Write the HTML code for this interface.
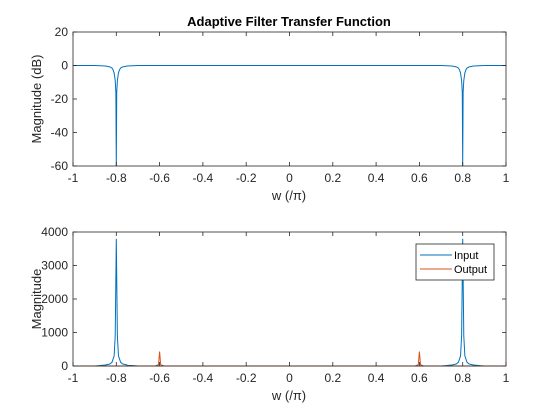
<!DOCTYPE html>
<html><head><meta charset="utf-8"><style>
body{margin:0;background:#fff;}
svg{display:block;font-family:"Liberation Sans",sans-serif;}
</style></head><body>
<svg id="fig" width="560" height="420">
<g transform="translate(41,99) rotate(-90)"><text x="0" y="0" text-anchor="middle" font-size="13" fill="#262626">Magnitude (dB)</text></g>
<g transform="translate(41,299) rotate(-90)"><text x="0" y="0" text-anchor="middle" font-size="13" fill="#262626">Magnitude</text></g>
</svg>
<script>
// Top chart data (dB)
const topW = [-1,-0.9,-0.85,-0.83,-0.82,-0.815,-0.81,-0.805,-0.802,-0.8,-0.798,-0.795,-0.79,-0.785,-0.78,-0.77,-0.75,-0.7,0,0.7,0.75,0.77,0.78,0.785,0.79,0.795,0.798,0.8,0.802,0.805,0.81,0.815,0.82,0.83,0.85,0.9,1];
const topDb = [0,0,-0.3,-0.8,-1.5,-2.5,-4.5,-9,-16,-60,-16,-9,-4.5,-2.5,-1.5,-0.8,-0.3,0,0,0,-0.3,-0.8,-1.5,-2.5,-4.5,-9,-16,-60,-16,-9,-4.5,-2.5,-1.5,-0.8,-0.3,0,0];
// Bottom chart data
const inW = [-1,-0.9,-0.88,-0.85,-0.83,-0.82,-0.81,-0.805,-0.8,-0.795,-0.79,-0.78,-0.77,-0.75,-0.72,-0.7,0.7,0.72,0.75,0.77,0.78,0.79,0.795,0.8,0.805,0.81,0.82,0.83,0.85,0.88,0.9,1];
const inMag = [0,0,10,30,60,110,300,900,3800,900,300,110,60,30,10,0,0,10,30,60,110,300,900,3800,900,300,110,60,30,10,0,0];
const outW = [-1,-0.62,-0.605,-0.6,-0.595,-0.58,0.58,0.595,0.6,0.605,0.62,1];
const outMag = [0,0,40,430,40,0,0,40,430,40,0,0];
const xTicks = [-1,-0.8,-0.6,-0.4,-0.2,0,0.2,0.4,0.6,0.8,1];
const xTickLabels = ["-1","-0.8","-0.6","-0.4","-0.2","0","0.2","0.4","0.6","0.8","1"];
const topYTicks = [20,0,-20,-40,-60];
const botYTicks = [0,1000,2000,3000,4000];

const NS="http://www.w3.org/2000/svg";
const svg=document.getElementById('fig');
function mk(t,a,p){const e=document.createElementNS(NS,t);for(const k in a)e.setAttribute(k,a[k]);(p||svg).appendChild(e);return e;}
const L=73,R=506;
const xs=v=>L+(v+1)/2*(R-L);
function axes(top,bot,ymin,ymax,yt,name){
  const ys=v=>bot-(v-ymin)/(ymax-ymin)*(bot-top);
  const g=mk('g',{});
  
  
  mk('rect',{x:L,y:top,width:R-L,height:bot-top,fill:'#fff',stroke:'none'},g);
  return {g,ys,top,bot,yt};
}
function frame(a){
  const g=a.g;
  mk('rect',{x:L,y:a.top,width:R-L,height:a.bot-a.top,fill:'none',stroke:'#262626','stroke-width':0.8},g);
  xTicks.forEach((v,i)=>{const x=xs(v);
    mk('line',{x1:x,x2:x,y1:a.bot,y2:a.bot-4,stroke:'#262626','stroke-width':0.8},g);
    mk('line',{x1:x,x2:x,y1:a.top,y2:a.top+4,stroke:'#262626','stroke-width':0.8},g);
    const t=mk('text',{x:x,y:a.bot+16,'text-anchor':'middle','font-size':12,fill:'#262626'},g);t.textContent=xTickLabels[i];
    
    });
  a.yt.forEach(v=>{const y=a.ys(v);
    mk('line',{x1:L,x2:L+4,y1:y,y2:y,stroke:'#262626','stroke-width':0.8},g);
    mk('line',{x1:R,x2:R-4,y1:y,y2:y,stroke:'#262626','stroke-width':0.8},g);
    const t=mk('text',{x:L-5,y:y+4,'text-anchor':'end','font-size':12,fill:'#262626'},g);t.textContent=String(v);
    
    });
}
function line(a,xsArr,ysArr,col,name){
  const p=mk('polyline',{points:xsArr.map((v,i)=>xs(v)+','+a.ys(ysArr[i])).join(' '),fill:'none',stroke:col,'stroke-width':1},a.g);
  
  
}
const A=axes(32,166,-60,20,topYTicks,'top-axes');
line(A,topW,topDb,'#0072bd','transfer-function-line');
frame(A);
const B=axes(232,366,0,4000,botYTicks,'bottom-axes');
line(B,inW,inMag,'#0072bd','input-line');
line(B,outW,outMag,'#d95319','output-line');
frame(B);
function txt(x,y,s,size,name,extra){const t=mk('text',Object.assign({x:x,y:y,'text-anchor':'middle','font-size':size,fill:'#262626'},extra||{}));t.textContent=s;

return t;}
txt(289,26,'Adaptive Filter Transfer Function',13,'chart-title',{'font-weight':'bold',fill:'#000'});
txt(289,200,'w (/\u03c0)',13,'top-x-axis-title');
txt(289,400,'w (/\u03c0)',13,'bottom-x-axis-title');
// legend
const lg=mk('g',{});


mk('rect',{x:416,y:244,width:78,height:36,fill:'#fff',stroke:'#262626','stroke-width':0.8},lg);
mk('line',{x1:420,x2:452,y1:255,y2:255,stroke:'#0072bd','stroke-width':1},lg);
mk('line',{x1:420,x2:452,y1:269,y2:269,stroke:'#d95319','stroke-width':1},lg);
const t1=mk('text',{x:454,y:259,'font-size':11,fill:'#000'},lg);t1.textContent='Input';


const t2=mk('text',{x:454,y:273,'font-size':11,fill:'#000'},lg);t2.textContent='Output';


</script>
</body></html>
